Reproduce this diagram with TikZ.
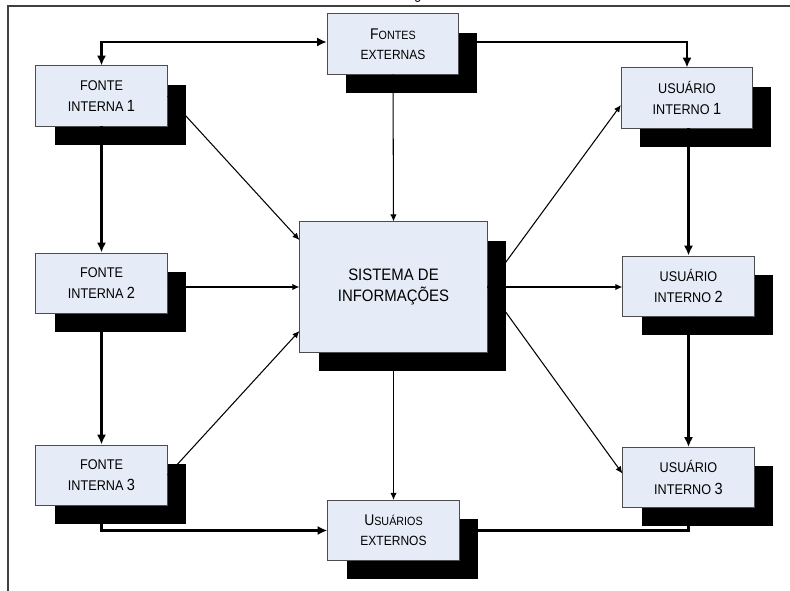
\documentclass[tikz,border=0pt]{standalone}
\usepackage{fontspec}
\setmainfont{Liberation Sans}[FakeStretch=0.9]
\usetikzlibrary{arrows.meta, shadows, calc}
\definecolor{boxblue}{RGB}{230,236,247}
\definecolor{framegray}{RGB}{64,64,64}
\newcommand{\bignum}[1]{{\fontsize{11.5}{15}\selectfont #1}}
\newcommand{\capl}[1]{{\fontsize{11}{14}\selectfont #1}}
\newcommand{\smallcap}[1]{{\fontsize{8.5}{14}\selectfont #1}}

\begin{document}
\begin{tikzpicture}[x=0.025cm, y=-0.025cm,
    box/.style={draw=black!70, fill=boxblue, line width=0.7pt,
        minimum width=3.28cm, minimum height=1.5cm, align=center,
        font=\fontsize{10}{15}\selectfont,
        drop shadow={shadow xshift=0.47cm, shadow yshift=-0.47cm, fill=black, opacity=1}},
    flow/.style={line width=2pt, arrows={-Latex[length=7pt,width=6.5pt]}},
    feed/.style={line width=0.75pt, arrows={-Latex[length=5pt,width=4.5pt]}}]
    \useasboundingbox (0,0) rectangle (790,591);

    % Frame
    \draw[framegray, line width=1pt] (790,6) -- (8,6) -- (8,591);
    \node[anchor=base, font=\fontsize{10}{12}\selectfont, inner sep=0pt] (cap) at (418,0) {g};

    % Boxes
    \node[box, font=\fontsize{9.5}{14}\selectfont] (fe) at (393,44) {\capl{F}\smallcap{ONTES}\\EXTERNAS};
    \node[box] (fi1) at (101.5,96) {FONTE\\INTERNA \bignum{1}};
    \node[box] (fi2) at (101.5,283) {FONTE\\INTERNA \bignum{2}};
    \node[box] (fi3) at (101.5,475) {FONTE\\INTERNA \bignum{3}};
    \node[box] (ui1) at (687,98) {USUÁRIO\\INTERNO \bignum{1}};
    \node[box] (ui2) at (688.5,286) {USUÁRIO\\INTERNO \bignum{2}};
    \node[box] (ui3) at (688.5,477.5) {USUÁRIO\\INTERNO \bignum{3}};
    \node[box, minimum width=4.68cm, minimum height=3.25cm, font=\fontsize{11.8}{15}\selectfont] (si) at (393.5,287) {SISTEMA DE\\INFORMAÇÕES};
    \node[box, font=\fontsize{9.5}{14}\selectfont] (ue) at (393.5,530.5) {\capl{U}\smallcap{SUÁRIOS}\\EXTERNOS};

    % Outer ring
    \draw[flow, arrows={Latex[length=7pt,width=6.5pt]-Latex[length=7pt,width=6.5pt]}] (fi1.north) |- ($(fe.west)+(0,-2)$);
    \draw[flow] ($(fe.east)+(0,-2)$) -| (ui1.north);
    \draw[flow] (fi1.south) -- (fi2.north);
    \draw[flow] (fi2.south) -- (fi3.north);
    \draw[flow] (fi3.south) |- (ue.west);
    \draw[line width=2pt] (ue.east) -| (ui3.south);
    \draw[flow] (ui1.south -| ui2.north) -- (ui2.north);
    \draw[flow] (ui2.south) -- (ui3.north);

    % Into and out of the system
    \draw[feed] (fe.south) -- (si.north);
    \draw[feed] (fi1.east) -- ($(si.west)+(0,-47)$);
    \draw[feed] (fi2.east |- si.west) -- (si.west);
    \draw[feed] (fi3.east) -- ($(si.west)+(0,44)$);
    \draw[feed] (si.east) -- ($(ui1.west)+(0,7)$);
    \draw[feed] (si.east) -- (si.east -| ui2.west);
    \draw[feed] (si.east) -- ($(ui3.west)+(0,-4)$);
    \draw[feed] (si.south) -- (ue.north);
\end{tikzpicture}
\end{document}
